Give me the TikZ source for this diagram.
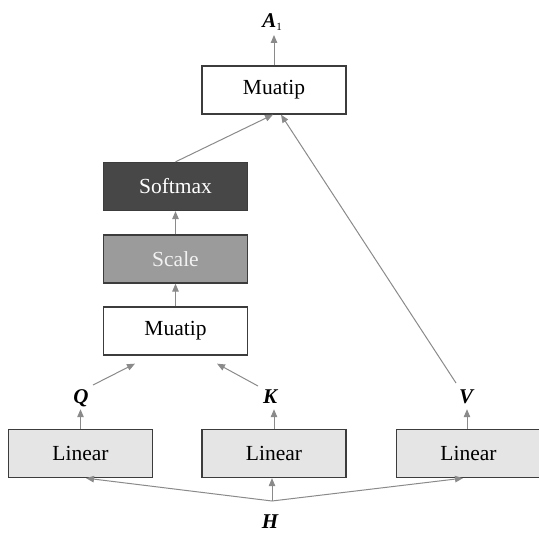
\documentclass[tikz,border=0pt]{standalone}
\usepackage{fontspec}
\setmainfont{Liberation Serif}
\usetikzlibrary{arrows.meta}
\definecolor{boxline}{HTML}{3C3C3C}
\definecolor{arrowc}{HTML}{8A8A8A}
\definecolor{softc}{HTML}{474747}
\definecolor{scalec}{HTML}{9B9B9B}
\definecolor{scaletext}{HTML}{F2F2F2}
\definecolor{linc}{HTML}{E5E5E5}
\tikzset{
  box/.style={draw=boxline, line width=1.3pt, fill=white, minimum width=144pt,
    minimum height=48pt, inner sep=0pt, font=\fontsize{21.5}{21.5}\selectfont},
  lbl/.style={inner sep=0pt, text depth=0pt, anchor=base,
    font=\fontsize{21}{21}\selectfont\bfseries\itshape},
  arr/.style={draw=arrowc, line width=1pt, -{Triangle[length=8pt,width=6.5pt]}},
}
\begin{document}
\begin{tikzpicture}[x=1pt,y=-1pt]
\useasboundingbox (0,0) rectangle (538,540);

% blocks
\node[box] (m1) at (274,90) {Muatip};
\node[box, fill=softc, text=white] (sm) at (175.5,186.5) {Softmax};
\node[box, fill=scalec, text=scaletext] (sc) at (175.5,259) {Scale};
\node[box] (m2) at (175.5,331) {Muatip};
\node[box, fill=linc] (l1) at (80.5,453.5) {Linear};
\node[box, fill=linc] (l2) at (274,453.5) {Linear};
\node[box, fill=linc] (l3) at (468.5,453.5) {Linear};

% symbols
\node[lbl] (a) at (272,28) {A\raisebox{-2.5pt}{\normalfont\fontsize{11}{11}\selectfont 1}};
\node[lbl] (q) at (81,403) {Q};
\node[lbl] (k) at (270,403) {K};
\node[lbl] (v) at (466,403) {V};
\node[lbl] (h) at (270,528) {H};

% input H to the three linear maps
\draw[arr] ([shift={(2,-27)}]h.base) -- ([xshift=5.5pt]l1.south);
\draw[arr] ([shift={(2,-27)}]h.base) -- ([xshift=-2pt]l2.south);
\draw[arr] ([shift={(2,-27)}]h.base) -- ([xshift=-5.5pt]l3.south);

% linear maps to Q, K, V
\draw[arr, shorten >=6pt] (l1.north) -- (l1.north |- q.south);
\draw[arr, shorten >=6pt] (l2.north) -- (l2.north |- k.south);
\draw[arr, shorten >=6pt] ([xshift=-1.5pt]l3.north) -- ([xshift=-1.5pt]l3.north |- v.south);

% Q and K into the first product
\draw[arr] ([shift={(12,-18)}]q.base) -- ([shift={(-40.5,8)}]m2.south);
\draw[arr] ([shift={(-12,-17)}]k.base) -- ([shift={(41.5,8)}]m2.south);

% scaling chain
\draw[arr] (m2.north) -- (sc.south);
\draw[arr] (sc.north) -- (sm.south);

% softmax and V into the second product
\draw[arr] (sm.north) -- ([xshift=-1pt]m1.south);
\draw[arr] ([shift={(-10,-20)}]v.base) -- ([xshift=7pt]m1.south);

% output
\draw[arr, shorten >=7pt] (m1.north) -- (m1.north |- a.base);
\end{tikzpicture}
\end{document}
